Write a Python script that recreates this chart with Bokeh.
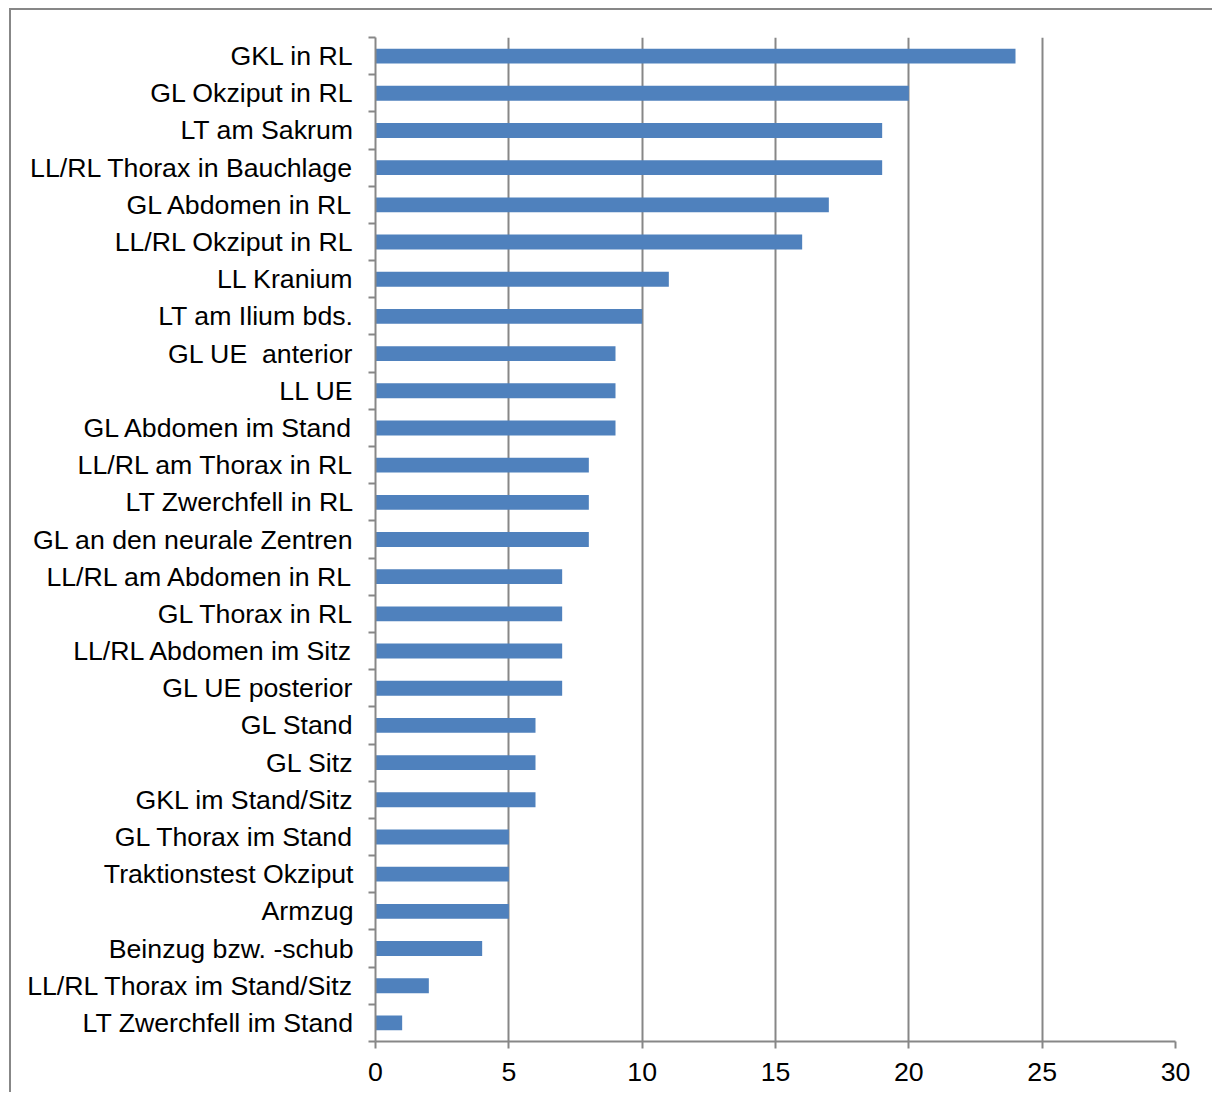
from bokeh.plotting import figure
from bokeh.models import Range1d, FixedTicker
from bokeh.embed import file_html
from bokeh.resources import INLINE

categories = [
    "GKL in RL", "GL Okziput in RL", "LT am Sakrum", "LL/RL Thorax in Bauchlage",
    "GL Abdomen in RL", "LL/RL Okziput in RL", "LL Kranium", "LT am Ilium bds.",
    "GL UE\u00a0 anterior", "LL UE", "GL Abdomen im Stand", "LL/RL am Thorax in RL",
    "LT Zwerchfell in RL", "GL an den neurale Zentren", "LL/RL am Abdomen in RL",
    "GL Thorax in RL", "LL/RL Abdomen im Sitz", "GL UE posterior", "GL Stand",
    "GL Sitz", "GKL im Stand/Sitz", "GL Thorax im Stand", "Traktionstest Okziput",
    "Armzug", "Beinzug bzw. -schub", "LL/RL Thorax im Stand/Sitz", "LT Zwerchfell im Stand",
]
values = [24, 20, 19, 19, 17, 16, 11, 10, 9, 9, 9, 8, 8, 8, 7, 7, 7, 7, 6, 6, 6, 5, 5, 5, 4, 2, 1]
x_ticks = [0, 5, 10, 15, 20, 25, 30]

GRAY = "#878787"
BLUE = "#4f81bd"
FONT = "Liberation Sans"

n = len(categories)
# first category at the top
rows = [n - 1 - i for i in range(n)]

p = figure(
    width=1203, height=1084,
    x_range=Range1d(0, 30), y_range=Range1d(-0.5, n - 0.5),
    output_backend="svg", toolbar_location=None,
    min_border_left=364, min_border_right=39, min_border_top=27, min_border_bottom=53,
    styles={"margin-left": "9px", "margin-top": "8px",
            "border-left": f"2px solid {GRAY}", "border-top": f"2px solid {GRAY}"},
)
p.outline_line_color = None

p.hbar(y=rows, right=values, left=0, height=0.4, fill_color=BLUE, line_color=None)

# value axis
p.xaxis.ticker = FixedTicker(ticks=x_ticks)
p.xaxis.axis_line_color = GRAY
p.xaxis.axis_line_width = 2
p.xaxis.major_tick_line_color = GRAY
p.xaxis.major_tick_line_width = 2
p.xaxis.major_tick_in = 0
p.xaxis.major_tick_out = 7
p.xaxis.minor_tick_line_color = None
p.xaxis.major_label_standoff = 14
p.xaxis.major_label_text_font = FONT
p.xaxis.major_label_text_font_size = "26.7px"
p.xaxis.major_label_text_color = "black"

# category axis: labels at row centres, tick marks on row boundaries
p.yaxis.ticker = FixedTicker(ticks=rows, minor_ticks=[k - 0.5 for k in range(n + 1)])
p.yaxis.major_label_overrides = {r: c for r, c in zip(rows, categories)}
p.yaxis.axis_line_color = GRAY
p.yaxis.axis_line_width = 2
p.yaxis.major_tick_line_color = None
p.yaxis.major_tick_in = 0
p.yaxis.major_tick_out = 0
p.yaxis.minor_tick_line_color = GRAY
p.yaxis.minor_tick_line_width = 2
p.yaxis.minor_tick_in = 0
p.yaxis.minor_tick_out = 7
p.yaxis.major_label_standoff = 15
p.yaxis.major_label_text_font = FONT
p.yaxis.major_label_text_font_size = "26.7px"
p.yaxis.major_label_text_color = "black"

p.xgrid.grid_line_color = GRAY
p.xgrid.grid_line_width = 2
p.ygrid.grid_line_color = None

open("out.html", "w").write(file_html(p, INLINE))
